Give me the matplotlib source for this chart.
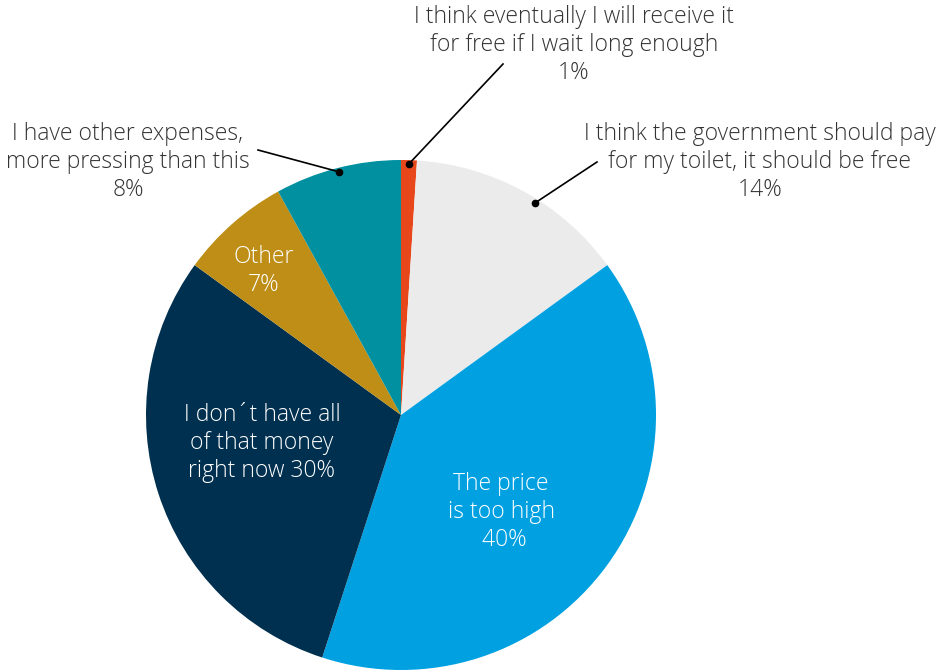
import matplotlib
matplotlib.use("Agg")
import matplotlib.pyplot as plt
import numpy as np

labels = ["I think eventually I will receive it\nfor free if I wait long enough\n1%",
          "I think the government should pay\nfor my toilet, it should be free\n14%",
          "The price\nis too high\n 40%",
          "I don´t have all\nof that money\nright now 30%",
          "Other\n7%",
          "I have other expenses,\nmore pressing than this\n8%"]
values = [1, 14, 40, 30, 7, 8]
colors = ["#E8461B", "#EBEBEB", "#00A0E1", "#00304F", "#BE8E17", "#00909F"]

plt.rcParams['font.family'] = ['Open Sans', 'DejaVu Sans']

W, H = 936, 670
fig = plt.figure(figsize=(W/100, H/100), dpi=100)
ax = fig.add_axes([0, 0, 1, 1])

cx, cy, R = 401, H - 415, 255
wedges, _ = ax.pie(values, colors=colors, startangle=90, counterclock=False,
                   center=(cx, cy), radius=R, frame=True,
                   wedgeprops=dict(linewidth=0))
ax.set_xlim(0, W)
ax.set_ylim(0, H)
ax.set_aspect('equal')
ax.axis('off')

def angle_in(i, frac):
    start = 90 - 360 * sum(values[:i]) / sum(values)
    return np.deg2rad(start - frac * 360 * values[i] / sum(values))

fs = 16.5
ls = 1.22
# inside labels
inside = {2: (501, 512), 3: (262, 443), 4: (264, 271)}
for i, (x, y) in inside.items():
    ax.text(x, H - y, labels[i], ha='center', va='center', color='white',
            fontsize=fs, linespacing=ls, fontweight='light')

# outside labels with leader lines: text centre, line end, position of dot in wedge
outside = {0: ((574, 45), (503, 64), 0.5),
           1: ((760, 162), (597, 162), 0.57),
           5: ((128, 162), (258, 150), 0.5)}
for i, ((tx, ty), (lx, ly), fr) in outside.items():
    a = angle_in(i, fr)
    px, py = cx + 0.985 * R * np.cos(a), cy + 0.985 * R * np.sin(a)
    ax.text(tx, H - ty, labels[i], ha='center', va='center', color='#333333',
            fontsize=fs, linespacing=ls, fontweight='light')
    ax.plot([px, lx], [py, H - ly], color='black', lw=1.2)
    ax.plot([px], [py], 'o', color='black', ms=4.5)

fig.savefig("out.png", dpi=100)
